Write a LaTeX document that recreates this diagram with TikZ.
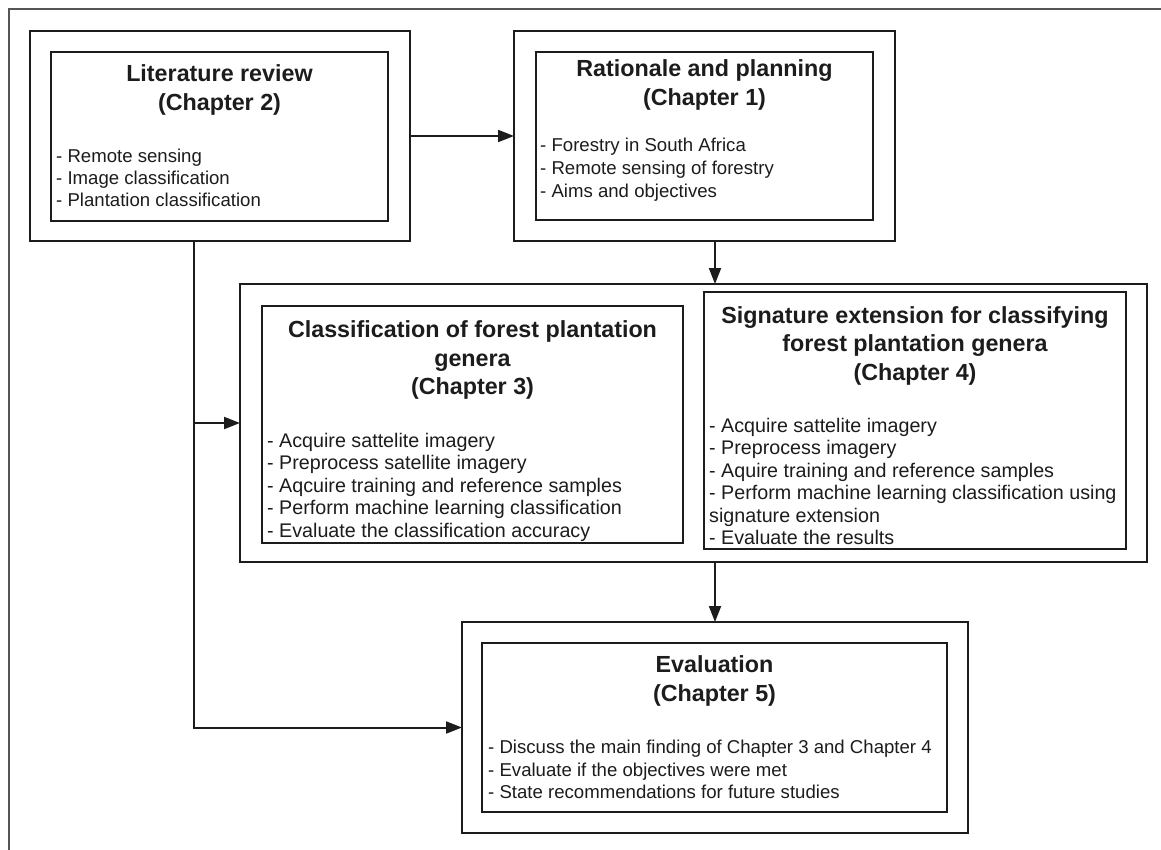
\documentclass[tikz,border=0pt]{standalone}
\usepackage{fontspec}
\setmainfont{Liberation Sans}
\usetikzlibrary{arrows.meta,calc}
\definecolor{ink}{HTML}{1C1C1C}
\definecolor{framec}{HTML}{555555}
\newcommand{\ttlfont}{\fontsize{23.3}{28.7}\selectfont\bfseries}
\newcommand{\bodyfont}{\fontsize{18.6}{22.3}\selectfont}
\newcommand{\bodyfontm}{\fontsize{19.7}{22.5}\selectfont}
\tikzset{
  outerbox/.style={draw=ink, line width=1.9pt, anchor=north west, inner sep=0pt, outer sep=0pt},
  innerbox/.style={draw=ink, line width=2.7pt, anchor=north west, inner sep=0pt, outer sep=0pt},
  ttl/.style={anchor=base, inner sep=0pt, font=\ttlfont, text=ink},
  bdy/.style={anchor=base west, inner sep=0pt, font=\bodyfont, text=ink},
  bdym/.style={anchor=base west, inner sep=0pt, font=\bodyfontm, text=ink},
  arr/.style={draw=ink, line width=2pt, -{Triangle[length=16pt,width=12pt]}},
}
\begin{document}
\begin{tikzpicture}[x=1pt,y=-1pt]
\useasboundingbox (0,0) rectangle (1161,850);
\clip (0,0) rectangle (1161,850);
\fill[white] (0,0) rectangle (1161,850);
% frame
\draw[framec, line width=1.6pt] (9,9) rectangle (1200,900);

% boxes
\node[outerbox, minimum width=380pt, minimum height=210pt] (litO) at (30,31) {};
\node[innerbox, minimum width=337pt, minimum height=169pt] (litI) at (51,52) {};
\node[outerbox, minimum width=381pt, minimum height=210pt] (ratO) at (514,31) {};
\node[innerbox, minimum width=337pt, minimum height=168pt] (ratI) at (536,52) {};
\node[outerbox, minimum width=907pt, minimum height=278pt] (midO) at (240,284) {};
\node[innerbox, minimum width=421pt, minimum height=237pt] (clsI) at (262,306) {};
\node[innerbox, minimum width=422pt, minimum height=257pt] (sigI) at (704,292) {};
\node[outerbox, minimum width=506pt, minimum height=211pt] (evaO) at (462,622) {};
\node[innerbox, minimum width=465pt, minimum height=169pt] (evaI) at (482,643) {};

% Literature review
\node[ttl] (litT1) at (219.5,81.5) {Literature review};
\node[ttl] (litT2) at (219.5,110.3) {(Chapter 2)};
\node[bdy] (litB1) at (56,162.7) {- Remote sensing};
\node[bdy] (litB2) at (56,184.7) {- Image classification};
\node[bdy] (litB3) at (56,206.7) {- Plantation classification};

% Rationale
\node[ttl] (ratT1) at (704.5,76.5) {Rationale and planning};
\node[ttl] (ratT2) at (704.5,105.3) {(Chapter 1)};
\node[bdy] (ratB1) at (540,151.7) {- Forestry in South Africa};
\node[bdy] (ratB2) at (540,174.5) {- Remote sensing of forestry};
\node[bdy] (ratB3) at (540,197.3) {- Aims and objectives};

% Classification
\node[ttl] (clsT1) at (472.5,337.5) {Classification of forest plantation};
\node[ttl] (clsT2) at (472.5,366) {genera};
\node[ttl] (clsT3) at (472.5,394.5) {(Chapter 3)};
\node[bdym] (clsB1) at (267,447) {- Acquire sattelite imagery};
\node[bdym] (clsB2) at (267,469.5) {- Preprocess satellite imagery};
\node[bdym] (clsB3) at (267,492) {- Aqcuire training and reference samples};
\node[bdym] (clsB4) at (267,514.5) {- Perform machine learning classification};
\node[bdym] (clsB5) at (267,537) {- Evaluate the classification accuracy};

% Signature extension
\node[ttl] (sigT1) at (915,323.3) {Signature extension for classifying};
\node[ttl] (sigT2) at (915,351.8) {forest plantation genera};
\node[ttl] (sigT3) at (915,380.3) {(Chapter 4)};
\node[bdym] (sigB1) at (709,432) {- Acquire sattelite imagery};
\node[bdym] (sigB2) at (709,454.5) {- Preprocess imagery};
\node[bdym] (sigB3) at (709,477) {- Aquire training and reference samples};
\node[bdym] (sigB4) at (709,499.5) {- Perform machine learning classification using};
\node[bdym] (sigB5) at (709,522) {signature extension};
\node[bdym] (sigB6) at (709,544.5) {- Evaluate the results};

% Evaluation
\node[ttl] (evaT1) at (714.5,672.3) {Evaluation};
\node[ttl] (evaT2) at (714.5,701.1) {(Chapter 5)};
\node[bdy] (evaB1) at (488,753.7) {- Discuss the main finding of Chapter 3 and Chapter 4};
\node[bdy] (evaB2) at (488,776.2) {- Evaluate if the objectives were met};
\node[bdy] (evaB3) at (488,798.7) {- State recommendations for future studies};

% connectors
\coordinate (trunk) at (194,241);
\draw[arr] (litO.east) -- (ratO.west);
\draw[arr] (ratO.south -| evaO.north) -- (midO.north -| evaO.north);
\draw[arr] (midO.south -| evaO.north) -- (evaO.north);
\draw[arr] (litO.south -| trunk) |- (evaO.west);
\draw[arr] (midO.west -| trunk) -- (midO.west);
\end{tikzpicture}
\end{document}
